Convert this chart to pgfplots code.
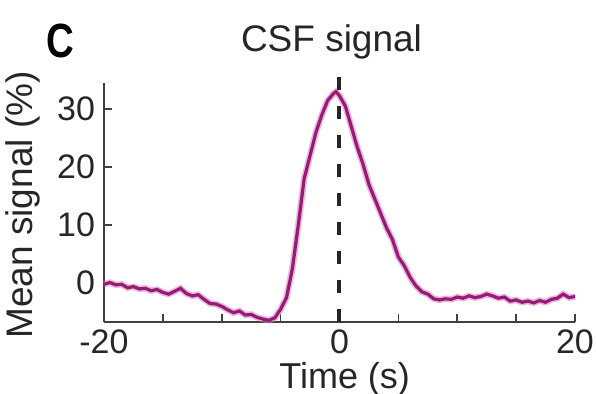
\documentclass[border=0pt]{standalone}
\usepackage{pgfplots}
\pgfplotsset{compat=1.18}
\usepackage{fontspec}
\setmainfont{Liberation Sans}
\definecolor{core}{RGB}{145,30,115}
\definecolor{halo}{RGB}{230,120,200}
\usepackage{pgfplotstable}
\pgfplotstableread{
x y
-20 -0.2
-19.5 0.1
-19 -0.3
-18.5 -0.2
-18 -0.8
-17.5 -0.6
-17 -1.0
-16.5 -0.9
-16 -1.3
-15.5 -1.1
-15 -1.6
-14.5 -1.9
-14 -1.4
-13.5 -0.9
-13 -1.8
-12.5 -2.2
-12 -2.0
-11.5 -2.8
-11 -3.5
-10.5 -3.6
-10 -4.0
-9.5 -4.6
-9 -5.1
-8.5 -4.8
-8 -5.5
-7.5 -5.4
-7 -5.9
-6.5 -6.2
-6 -6.4
-5.5 -6.0
-5 -4.5
-4.5 -2.5
-4 2.5
-3.5 10
-3 18
-2.5 22
-2 26
-1.5 29
-1 31.5
-0.5 32.7
-0.3 33.0
0 32.3
0.5 30.5
1 27
1.5 23.5
2 20.5
2.5 17
3 14.5
3.5 12
4 9.5
4.5 7.5
5 4.5
5.5 3.0
6 1.0
6.5 -0.5
7 -1.5
7.5 -1.9
8 -2.7
8.5 -2.9
9 -2.7
9.5 -2.8
10 -2.4
10.5 -2.6
11 -2.2
11.5 -2.5
12 -2.3
12.5 -1.9
13 -2.2
13.5 -2.6
14 -2.4
14.5 -3.1
15 -2.9
15.5 -3.3
16 -3.1
16.5 -3.4
17 -3.0
17.5 -3.3
18 -2.8
18.5 -2.6
19 -1.9
19.5 -2.5
20 -2.3
}\csfdata
\begin{document}
\begin{tikzpicture}
\begin{axis}[
  at={(0,0)}, anchor=south west,
  scale only axis, width=235.5pt, height=119.5pt,
  xmin=-20, xmax=20, ymin=-6.7, ymax=34.5,
  axis lines=left, axis line style={-, line width=0.8pt, black!75},
  tick align=inside, major tick length=4pt,
  tick style={line width=0.8pt, black!75},
  xtick={-20,-15,...,20},
  xticklabels={-20,,,,0,,,,20},
  ytick={0,10,20,30},
  /pgf/number format/assume math mode=true,
  tick label style={font=\fontsize{17}{19}\selectfont, text=black!85},
  yticklabel style={xshift=-1pt},
  xticklabel style={inner ysep=0.5pt, yshift=-3pt},
  clip=false,
]
\addplot[halo, line width=3.2pt, opacity=0.55] table {\csfdata};
\addplot[core, line width=1.6pt] table {\csfdata};
\addplot[black!85, line width=2pt, dash pattern=on 6.5pt off 8pt] coordinates {(0,35.6) (0,-6.7)};
\node[anchor=base, font=\fontsize{18.5}{21}\selectfont, text=black!85] at (rel axis cs:0.483,1.13) {CSF signal};
\node[anchor=base, xscale=0.8, font=\fontsize{24}{26}\selectfont\bfseries] at (rel axis cs:-0.093,1.108) {C};
\node[rotate=90, font=\fontsize{18.5}{20}\selectfont, text=black!85] at (rel axis cs:-0.172,0.49) {Mean signal (\%)};
\node[anchor=base, inner sep=0pt, font=\fontsize{18}{21}\selectfont, text=black!85] at (rel axis cs:0.511,-0.28) {Time (s)};
\end{axis}
\pgfresetboundingbox
\path[use as bounding box] (-52pt,-36pt) rectangle (246pt,161pt);
\end{tikzpicture}
\end{document}
